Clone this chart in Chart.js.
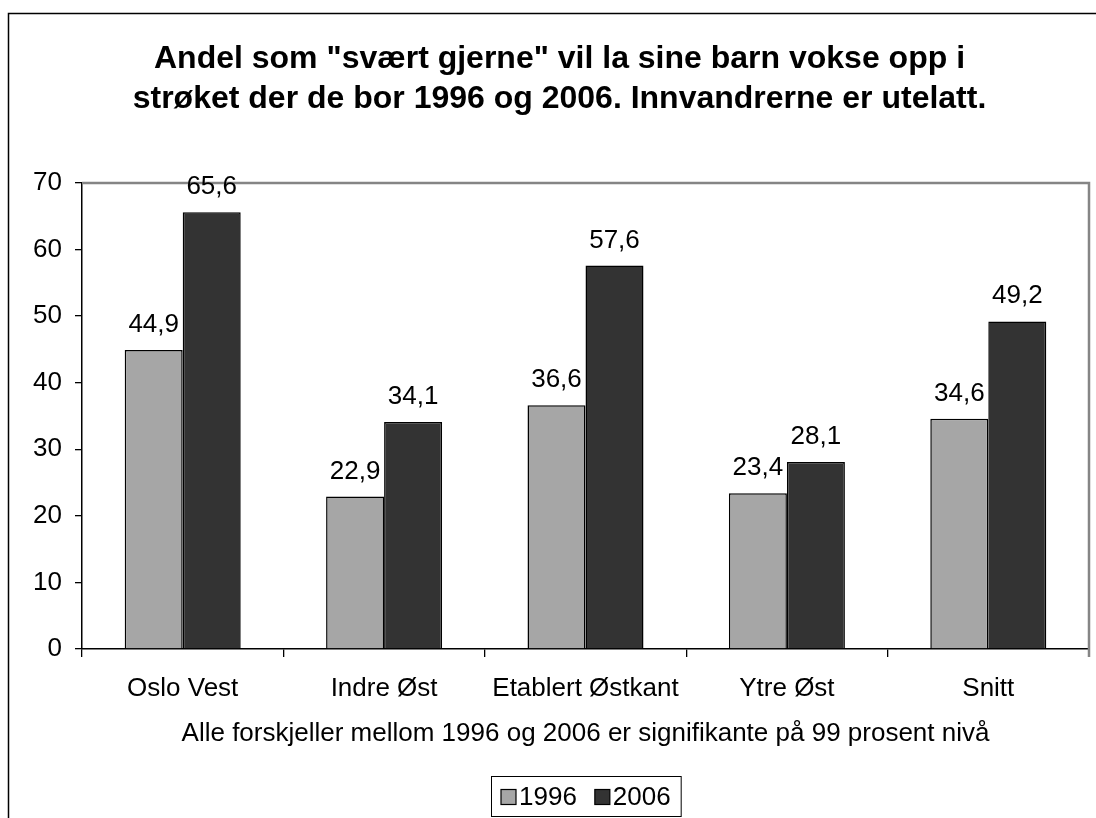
<!DOCTYPE html>
<html><head><meta charset="utf-8">
<script src="https://cdn.jsdelivr.net/npm/chart.js@4/dist/chart.umd.min.js"></script>
<style>html,body{margin:0;padding:0;background:#fff}canvas{display:block}</style>
</head><body>
<canvas id="c" width="1096" height="818"></canvas>
<script>
const categories = ['Oslo Vest', 'Indre Øst', 'Etablert Østkant', 'Ytre Øst', 'Snitt'];
const values1996 = [44.9, 22.9, 36.6, 23.4, 34.6];
const values2006 = [65.6, 34.1, 57.6, 28.1, 49.2];
const seriesLabels = ['1996', '2006'];
const titleLines = ['Andel som "svært gjerne" vil la sine barn vokse opp i', 'strøket der de bor 1996 og 2006. Innvandrerne er utelatt.'];
const xAxisTitle = 'Alle forskjeller mellom 1996 og 2006 er signifikante på 99 prosent nivå';
const yMin = 0, yMax = 70, yStep = 10;

const FONT = 'Liberation Sans, Arial, Helvetica, sans-serif';
const LABEL_SIZE = 26;
const colors = ['#a6a6a6', '#333333'];

const fmt = v => v.toFixed(1).replace('.', ',');

const framePlugin = {
  id: 'frame',
  beforeDraw(chart) {
    const ctx = chart.ctx;
    ctx.save();
    ctx.fillStyle = '#fff';
    ctx.fillRect(0, 0, chart.width, chart.height);
    ctx.restore();
  },
  beforeDatasetsDraw(chart) {
    const {ctx, chartArea: a} = chart;
    ctx.save();
    ctx.strokeStyle = '#858585';
    ctx.lineWidth = 2.5;
    ctx.beginPath();
    ctx.moveTo(a.left, a.top);
    ctx.lineTo(a.right, a.top);
    ctx.lineTo(a.right, a.bottom + 8);
    ctx.stroke();
    ctx.restore();
  },
  afterDraw(chart) {
    const ctx = chart.ctx;
    ctx.save();
    ctx.strokeStyle = '#000';
    ctx.lineWidth = 1.5;
    ctx.beginPath();
    ctx.moveTo(8.5, chart.height);
    ctx.lineTo(8.5, 13.5);
    ctx.lineTo(chart.width, 13.5);
    ctx.stroke();
    ctx.restore();
  }
};

const valueLabelPlugin = {
  id: 'valueLabels',
  afterDatasetsDraw(chart) {
    const ctx = chart.ctx;
    ctx.save();
    ctx.font = LABEL_SIZE + 'px ' + FONT;
    ctx.fillStyle = '#000';
    ctx.textAlign = 'center';
    ctx.textBaseline = 'alphabetic';
    chart.data.datasets.forEach((ds, di) => {
      const meta = chart.getDatasetMeta(di);
      meta.data.forEach((el, i) => {
        ctx.fillText(fmt(ds.data[i]), el.x, el.y - 18);
      });
    });
    ctx.restore();
  }
};

const boxLegendPlugin = {
  id: 'boxLegend',
  afterDraw(chart) {
    const ctx = chart.ctx;
    const a = chart.chartArea;
    ctx.save();
    ctx.font = LABEL_SIZE + 'px ' + FONT;
    const sq = 15, gapSqText = 3, gapItems = 18, padX = 10;
    const items = chart.data.datasets.map(ds => ({label: ds.label, color: ds.backgroundColor, w: ctx.measureText(ds.label).width}));
    let total = padX * 2;
    items.forEach((it, i) => { total += sq + gapSqText + it.w + (i ? gapItems : 0); });
    const boxTop = 776, boxH = 40;
    const left = Math.round((a.left + a.right) / 2 - total / 2);
    ctx.fillStyle = '#fff';
    ctx.fillRect(left, boxTop, total, boxH);
    ctx.strokeStyle = '#000';
    ctx.lineWidth = 1;
    ctx.strokeRect(left + 0.5, boxTop + 0.5, total, boxH);
    let x = left + padX;
    const midY = boxTop + boxH / 2;
    items.forEach((it, i) => {
      if (i) x += gapItems;
      ctx.fillStyle = it.color;
      ctx.fillRect(x, midY - sq / 2 + 1, sq, sq);
      ctx.strokeStyle = '#000';
      ctx.lineWidth = 1.2;
      ctx.strokeRect(x, midY - sq / 2 + 1, sq, sq);
      x += sq + gapSqText;
      ctx.fillStyle = '#000';
      ctx.textAlign = 'left';
      ctx.textBaseline = 'alphabetic';
      ctx.fillText(it.label, x, midY + 9);
      x += it.w;
    });
    ctx.restore();
  }
};

new Chart(document.getElementById('c'), {
  type: 'bar',
  data: {
    labels: categories,
    datasets: [
      {label: seriesLabels[0], data: values1996, backgroundColor: colors[0], borderColor: '#000', borderWidth: 1.5},
      {label: seriesLabels[1], data: values2006, backgroundColor: colors[1], borderColor: '#000', borderWidth: 1.5}
    ]
  },
  options: {
    responsive: false,
    animation: false,
    devicePixelRatio: 1,
    categoryPercentage: 0.576,
    barPercentage: 1,
    layout: {padding: {left: 30, right: 7, top: 0, bottom: 59}},
    plugins: {
      legend: {display: false},
      tooltip: {enabled: false},
      title: {
        display: true,
        text: titleLines,
        color: '#000',
        font: {family: FONT, size: 32, weight: 'bold', lineHeight: 40 / 32},
        padding: {top: 39, bottom: 64}
      }
    },
    scales: {
      x: {
        offset: true,
        grid: {display: true, drawOnChartArea: false, drawTicks: true, tickLength: 8, color: '#000', lineWidth: 1.3},
        border: {display: true, color: '#000', width: 1.5},
        ticks: {color: '#000', font: {family: FONT, size: LABEL_SIZE}, padding: 16, maxRotation: 0},
        title: {display: true, text: xAxisTitle, color: '#000', font: {family: FONT, size: LABEL_SIZE, lineHeight: 1.2}, padding: {top: 0, bottom: 10}},
        afterFit(scale) { scale.height = 110; }
      },
      y: {
        min: yMin, max: yMax,
        grid: {display: true, drawOnChartArea: false, drawTicks: true, tickLength: 7, color: '#000', lineWidth: 1.3},
        border: {display: true, color: '#000', width: 1.5},
        ticks: {stepSize: yStep, color: '#000', font: {family: FONT, size: LABEL_SIZE}, padding: 13},
        afterFit(scale) { scale.width = 52; }
      }
    }
  },
  plugins: [framePlugin, valueLabelPlugin, boxLegendPlugin]
});
</script>
</body></html>
